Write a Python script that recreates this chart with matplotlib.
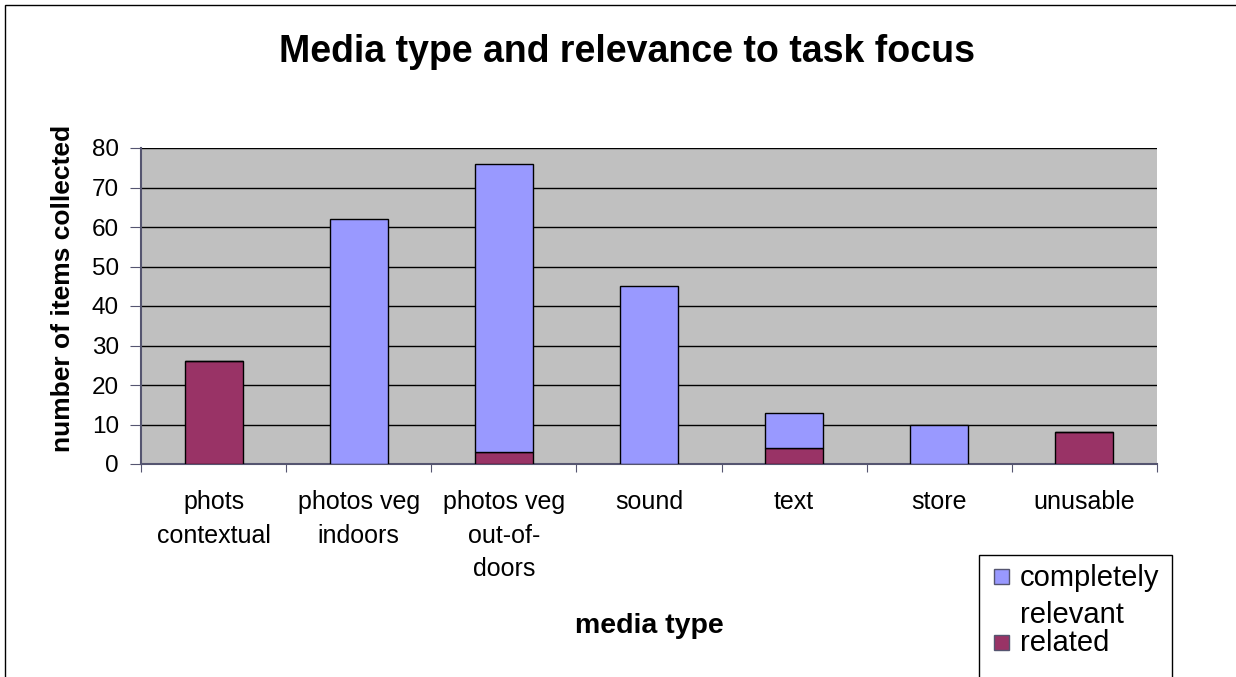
import numpy as np
import matplotlib
matplotlib.use('Agg')
import matplotlib.pyplot as plt
from matplotlib.patches import Rectangle

plt.rcParams['font.family'] = ['Liberation Sans', 'DejaVu Sans']

# Daten
kategorien = ['phots\ncontextual', 'photos veg\nindoors', 'photos veg\nout-of-\ndoors',
              'sound', 'text', 'store', 'unusable']
related = [26, 0, 3, 0, 4, 0, 8]
completely_relevant = [0, 62, 73, 45, 9, 10, 0]
legende_namen = ['completely\nrelevant', 'related']

farbe_blau = '#9999ff'
farbe_rot = '#993366'

W, H = 1236, 677
fig = plt.figure(figsize=(W / 100, H / 100), dpi=100)


def px(x, y):
    # Pixel (von oben links) -> Figurkoordinaten
    return x / W, 1 - y / H


ax = fig.add_axes([141 / W, 1 - 464 / H, 1016 / W, 316 / H])
ax.set_facecolor('#c0c0c0')

x = np.arange(len(kategorien))
ax.bar(x, related, width=0.4, color=farbe_rot, edgecolor='black', linewidth=1, zorder=3)
ax.bar(x, completely_relevant, width=0.4, bottom=related, color=farbe_blau,
       edgecolor='black', linewidth=1, zorder=3)

ax.set_xlim(-0.5, len(kategorien) - 0.5)
ax.set_ylim(0, 80)
ax.set_yticks(np.arange(0, 81, 10))
ax.yaxis.grid(True, color='black', linewidth=1, zorder=1)

# Ticks an Kategoriengrenzen, Beschriftung in der Mitte
ax.set_xticks(np.arange(-0.5, len(kategorien), 1))
ax.set_xticklabels([])
ax.set_xticks(x, minor=True)
ax.set_xticklabels(kategorien, minor=True, fontsize=18, linespacing=1.48)
ax.tick_params(axis='x', which='minor', length=0, pad=19)
ax.tick_params(axis='x', which='major', length=6, color='#555570', direction='out')
ax.tick_params(axis='y', length=8, color='#555570', labelsize=17.5, pad=8)

for s in ['top', 'right']:
    ax.spines[s].set_visible(False)
for s in ['left', 'bottom']:
    ax.spines[s].set_color('#555570')
    ax.spines[s].set_linewidth(1.5)

fig.text(*px(63, 288), 'number of items collected', fontsize=19, fontweight='bold',
         rotation=90, ha='center', va='center')
fig.text(*px(649, 626), 'media type', fontsize=20.5, fontweight='bold',
         ha='center', va='center')
fig.text(*px(627, 52), 'Media type and relevance to task focus',
         fontsize=27, fontweight='bold', ha='center', va='center')

# Legende (Excel-Stil, von Hand)
lx0, ly0 = px(979, 700)
lx1, ly1 = px(1172, 555)
fig.patches.append(Rectangle((lx0, ly0), lx1 - lx0, ly1 - ly0, transform=fig.transFigure,
                             facecolor='white', edgecolor='black', linewidth=1))
for farbe, name, y_marker, y_text in [(farbe_blau, legende_namen[0], 569, 564),
                                      (farbe_rot, legende_namen[1], 635, 629)]:
    mx, my = px(994, y_marker + 15)
    fig.patches.append(Rectangle((mx, my), 15 / W, 15 / H, transform=fig.transFigure,
                                 facecolor=farbe, edgecolor='#555570', linewidth=1))
    fig.text(*px(1020, y_text), name, fontsize=21, ha='left', va='top', linespacing=1.4)

# Rahmen um die ganze Grafik
fig.patches.append(Rectangle((5 / W, -0.01), 1.0, 1 - 5 / H + 0.01,
                             transform=fig.transFigure, fill=False,
                             edgecolor='black', linewidth=1))

plt.savefig('out.png', dpi=100)
